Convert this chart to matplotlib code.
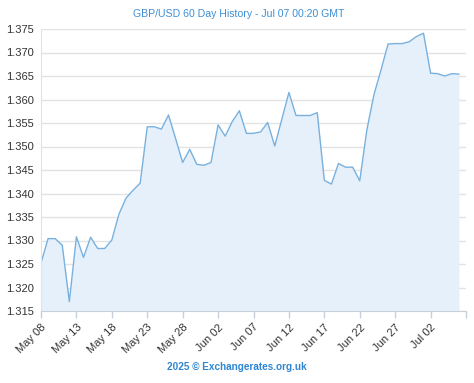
import matplotlib.pyplot as plt
import pandas as pd

# daily GBP/USD values, May 08 - Jul 06 2025
dates = pd.date_range('2025-05-08', '2025-07-06', freq='D')
rates = [1.3252, 1.3304, 1.3304, 1.3290, 1.3170, 1.3308, 1.3264, 1.3307, 1.3283, 1.3283,
         1.3301, 1.3356, 1.3390, 1.3407, 1.3422, 1.3542, 1.3542, 1.3537, 1.3567, 1.3517,
         1.3466, 1.3494, 1.3462, 1.3460, 1.3466, 1.3546, 1.3522, 1.3553, 1.3576, 1.3528,
         1.3528, 1.3531, 1.3551, 1.3501, 1.3558, 1.3615, 1.3566, 1.3566, 1.3566, 1.3572,
         1.3428, 1.3420, 1.3464, 1.3456, 1.3456, 1.3427, 1.3535, 1.3610, 1.3663, 1.3718,
         1.3719, 1.3719, 1.3723, 1.3734, 1.3741, 1.3656, 1.3655, 1.3650, 1.3655, 1.3654]
yticks = [1.315, 1.320, 1.325, 1.330, 1.335, 1.340, 1.345, 1.350, 1.355, 1.360, 1.365, 1.370, 1.375]
xticks = pd.date_range('2025-05-08', '2025-07-07', freq='5D')

plt.rcParams['font.family'] = ['Liberation Sans', 'DejaVu Sans']

fig = plt.figure(figsize=(4.74, 3.83), dpi=100)
ax = fig.add_axes([41 / 474, 1 - 311 / 383, 425 / 474, 282 / 383])

ax.fill_between(dates, rates, 1.315, color='#e5f0fa', lw=0)
ax.plot(dates, rates, color='#78b1de', lw=1)

ax.set_ylim(1.315, 1.375)
ax.set_xlim(xticks[0], xticks[-1])
ax.set_yticks(yticks)
ax.set_yticklabels(['%.3f' % v for v in yticks])
ax.set_xticks(xticks)
ax.set_xticklabels([d.strftime('%b %d') if i < len(xticks) - 1 else '' for i, d in enumerate(xticks)],
                   rotation=45, ha='right', rotation_mode='anchor')
ax.grid(axis='y', color='#e3e3e3', lw=1)
ax.set_axisbelow(True)
ax.tick_params(axis='y', length=0, pad=5, labelsize=8, labelcolor='#333333')
ax.tick_params(axis='x', length=5, width=1, color='#c8d0dc', pad=3, labelsize=8, labelcolor='#333333')
for s in ['top', 'right']:
    ax.spines[s].set_visible(False)
ax.spines['left'].set_color('#e3e3e3')
ax.spines['bottom'].set_color('#c8d0dc')

fig.text(239 / 474, 1 - 14 / 383, 'GBP/USD 60 Day History - Jul 07 00:20 GMT',
         ha='center', va='center', color='#3d8fd6', fontsize=7.6)
fig.text(237 / 474, 1 - 367 / 383, '2025 \u00a9 Exchangerates.org.uk',
         ha='center', va='center', color='#2f86d2', fontsize=7.2, fontweight='bold')

plt.savefig('out.png', dpi=100)
